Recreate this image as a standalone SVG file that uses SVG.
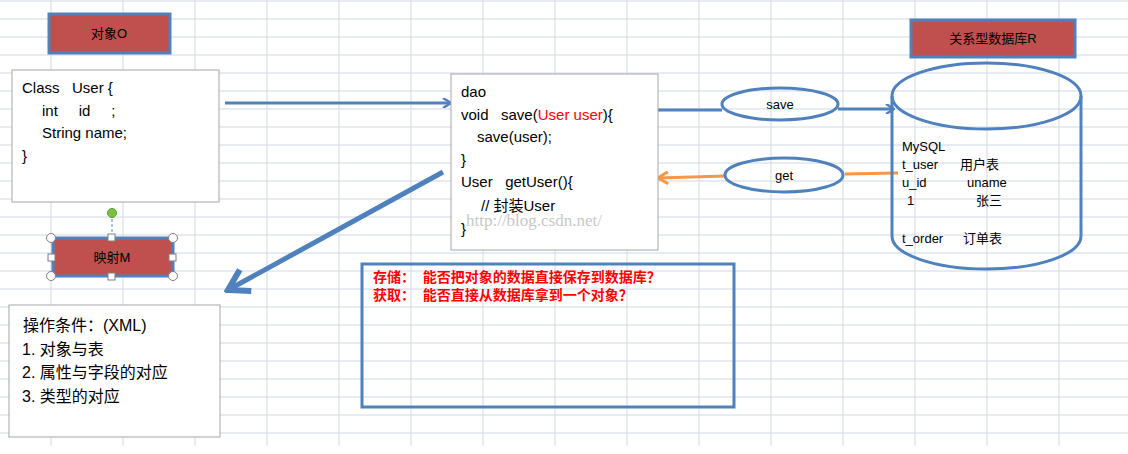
<svg xmlns="http://www.w3.org/2000/svg" width="1128" height="454" viewBox="0 0 1128 454">
<defs>
<style>
text{font-family:"Liberation Sans","Noto Sans CJK SC",sans-serif;fill:#000;white-space:pre}
.grid line{stroke:#D0D7E5;stroke-width:1}
.lbl{fill:#C0504D;stroke:#4F81BD;stroke-width:3}
.box{fill:#fff;stroke:#A6A6A6;stroke-width:1}
.code{font-size:15px}
.blue{stroke:#4F81BD;stroke-width:3;fill:none}
.red{fill:#F00;font-weight:bold;font-size:14px}
.h{fill:#fff;stroke:#7F7F7F;stroke-width:1}
</style>
<marker id="ab" markerWidth="10" markerHeight="10" refX="8" refY="5" orient="auto" markerUnits="userSpaceOnUse"><path d="M1,0 L9,5 L1,10" fill="none" stroke="#4F81BD" stroke-width="2.5"/></marker>
<marker id="ao" markerWidth="14" markerHeight="14" refX="12" refY="7" orient="auto" markerUnits="userSpaceOnUse"><path d="M2,1 L12,7 L2,13" fill="none" stroke="#F79646" stroke-width="3"/></marker>
<marker id="abig" markerWidth="30" markerHeight="30" refX="26" refY="15" orient="auto" markerUnits="userSpaceOnUse"><path d="M6,3 L26,15 L6,27" fill="none" stroke="#4F81BD" stroke-width="6"/></marker>
</defs>
<rect width="1128" height="454" fill="#fff"/>
<g class="grid">
<line x1="0" y1="1" x2="1128" y2="1"/><line x1="0" y1="19" x2="1128" y2="19"/><line x1="0" y1="37" x2="1128" y2="37"/><line x1="0" y1="55" x2="1128" y2="55"/><line x1="0" y1="73" x2="1128" y2="73"/><line x1="0" y1="91" x2="1128" y2="91"/><line x1="0" y1="109" x2="1128" y2="109"/><line x1="0" y1="127" x2="1128" y2="127"/><line x1="0" y1="145" x2="1128" y2="145"/><line x1="0" y1="163" x2="1128" y2="163"/><line x1="0" y1="181" x2="1128" y2="181"/><line x1="0" y1="199" x2="1128" y2="199"/><line x1="0" y1="217" x2="1128" y2="217"/><line x1="0" y1="235" x2="1128" y2="235"/><line x1="0" y1="253" x2="1128" y2="253"/><line x1="0" y1="271" x2="1128" y2="271"/><line x1="0" y1="289" x2="1128" y2="289"/><line x1="0" y1="307" x2="1128" y2="307"/><line x1="0" y1="325" x2="1128" y2="325"/><line x1="0" y1="343" x2="1128" y2="343"/><line x1="0" y1="361" x2="1128" y2="361"/><line x1="0" y1="379" x2="1128" y2="379"/><line x1="0" y1="397" x2="1128" y2="397"/><line x1="0" y1="415" x2="1128" y2="415"/><line x1="0" y1="433" x2="1128" y2="433"/>
<line x1="51" y1="0" x2="51" y2="446"/><line x1="123" y1="0" x2="123" y2="446"/><line x1="195" y1="0" x2="195" y2="446"/><line x1="267" y1="0" x2="267" y2="446"/><line x1="339" y1="0" x2="339" y2="446"/><line x1="411" y1="0" x2="411" y2="446"/><line x1="483" y1="0" x2="483" y2="446"/><line x1="555" y1="0" x2="555" y2="446"/><line x1="627" y1="0" x2="627" y2="446"/><line x1="699" y1="0" x2="699" y2="446"/><line x1="771" y1="0" x2="771" y2="446"/><line x1="843" y1="0" x2="843" y2="446"/><line x1="915" y1="0" x2="915" y2="446"/><line x1="987" y1="0" x2="987" y2="446"/><line x1="1059" y1="0" x2="1059" y2="446"/>
</g>
<g id="connectors">
<line x1="225" y1="103" x2="450" y2="103" class="blue" marker-end="url(#ab)"/>
<line x1="658" y1="110" x2="722" y2="110" class="blue"/>
<line x1="838" y1="109" x2="893" y2="109" class="blue" marker-end="url(#ab)"/>
<line x1="898" y1="173" x2="845" y2="174" stroke="#F79646" stroke-width="3"/>
<line x1="725" y1="176" x2="658" y2="178" stroke="#F79646" stroke-width="3" marker-end="url(#ao)"/>
<line x1="443" y1="172" x2="228" y2="290" stroke="#4F81BD" stroke-width="5" marker-end="url(#abig)"/>
</g>
<g id="objO"><rect x="49" y="14" width="121" height="39" class="lbl"/><text x="109" y="38" text-anchor="middle" font-size="13">对象O</text></g>
<g id="classUser"><rect x="12" y="70" width="207" height="132" class="box"/>
<text class="code"><tspan x="22" y="93">Class   User {</tspan><tspan x="42" y="116">int     id     ;</tspan><tspan x="42" y="138">String name;</tspan><tspan x="22" y="161">}</tspan></text></g>
<g id="dao"><rect x="451" y="74" width="207" height="176" class="box"/>
<text class="code"><tspan x="461" y="97">dao</tspan><tspan x="461" y="120">void   save(<tspan fill="#F00" style="fill:#F00">User user</tspan>){</tspan><tspan x="477" y="142">save(user);</tspan><tspan x="461" y="165">}</tspan><tspan x="461" y="187">User   getUser(){</tspan><tspan x="481" y="211">// 封装User</tspan><tspan x="461" y="234">}</tspan></text>
<text x="466" y="226" font-size="17" style="fill:#C8C8C8;font-family:'Liberation Serif',serif">http://blog.csdn.net/</text></g>
<g id="save"><ellipse cx="780" cy="104" rx="58" ry="16" fill="#fff" class="blue"/><text x="780" y="109" text-anchor="middle" font-size="13">save</text></g>
<g id="get"><ellipse cx="784" cy="175" rx="59" ry="17" fill="#fff" class="blue"/><text x="784" y="180" text-anchor="middle" font-size="13">get</text></g>
<g id="dbLabel"><rect x="911" y="20" width="164" height="37" class="lbl"/><text x="993" y="43" text-anchor="middle" font-size="13">关系型数据库R</text></g>
<g id="db">
<path d="M892,96 L892,236 A94.5,33 0 0 0 1081,236 L1081,96" fill="#fff" class="blue"/>
<ellipse cx="986.5" cy="96" rx="94.5" ry="33" fill="#fff" class="blue"/>
<text font-size="13"><tspan x="902" y="151">MySQL</tspan><tspan x="902" y="169">t_user</tspan><tspan x="960" y="169">用户表</tspan><tspan x="902" y="187">u_id</tspan><tspan x="967" y="187">uname</tspan><tspan x="907" y="205">1</tspan><tspan x="976" y="205">张三</tspan><tspan x="902" y="243">t_order</tspan><tspan x="963" y="243">订单表</tspan></text></g>
<g id="mapM">
<line x1="112" y1="219" x2="112" y2="237" stroke="#4F81BD" stroke-width="1" stroke-dasharray="3,2"/>
<circle cx="112" cy="213" r="4.5" fill="#7CC242" stroke="#5A9E2F"/>
<rect x="53" y="238" width="120" height="38" class="lbl"/><text x="112" y="262" text-anchor="middle" font-size="13">映射M</text>
<circle cx="51" cy="238" r="4.5" class="h"/><circle cx="173" cy="238" r="4.5" class="h"/><circle cx="51" cy="276" r="4.5" class="h"/><circle cx="173" cy="276" r="4.5" class="h"/>
<rect x="108" y="234" width="7" height="7" class="h"/><rect x="108" y="273" width="7" height="7" class="h"/><rect x="48" y="254" width="7" height="7" class="h"/><rect x="169" y="254" width="7" height="7" class="h"/></g>
<g id="cond"><rect x="9" y="305" width="211" height="132" class="box"/>
<text font-size="16"><tspan x="23" y="331">操作条件：(XML)</tspan><tspan x="22" y="355">1. 对象与表</tspan><tspan x="22" y="378">2. 属性与字段的对应</tspan><tspan x="22" y="402">3. 类型的对应</tspan></text></g>
<g id="question"><rect x="362" y="264" width="372" height="143" fill="#fff" class="blue"/>
<text class="red" style="fill:#F00"><tspan x="373" y="282">存储：  能否把对象的数据直接保存到数据库？</tspan><tspan x="373" y="300">获取：  能否直接从数据库拿到一个对象？</tspan></text></g>
</svg>
